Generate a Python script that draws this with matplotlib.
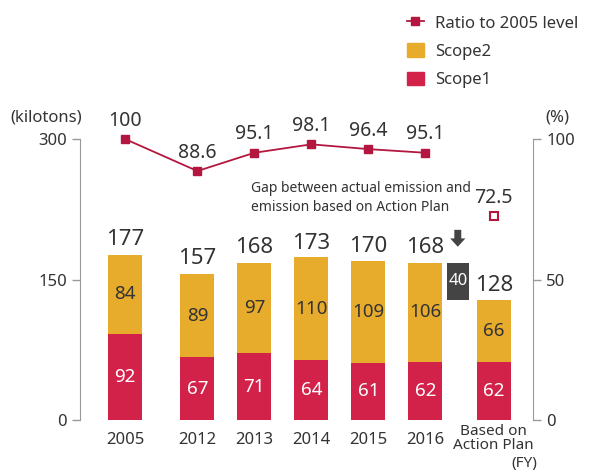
import matplotlib
matplotlib.use("Agg")
import matplotlib.pyplot as plt
from matplotlib.lines import Line2D
from matplotlib.patches import Patch

plt.rcParams['font.family'] = ['Noto Sans', 'DejaVu Sans']

categories = ["2005", "2012", "2013", "2014", "2015", "2016", "Based on\nAction Plan"]
scope1 = [92, 67, 71, 64, 61, 62, 62]
scope2 = [84, 89, 97, 110, 109, 106, 66]
totals = [177, 157, 168, 173, 170, 168, 128]
ratio_labels = ["100", "88.6", "95.1", "98.1", "96.4", "95.1"]
ratio = [100, 88.6, 95.1, 98.1, 96.4, 95.1]
plan_ratio = 72.5
gap = 40

xpos = [0, 1.27, 2.27, 3.27, 4.27, 5.27, 6.47]
gap_x = 5.84

c_s1 = "#D2224A"
c_s2 = "#E8AC2C"
c_line = "#B3173F"
c_txt = "#333333"
c_ax = "#999999"

fig = plt.figure(figsize=(6.04, 4.72), dpi=100)
ax = fig.add_axes([80/604, 1-420/472, (533-80)/604, (420-139)/472])
ax2 = ax.twinx()

w = 0.6
ax.bar(xpos, scope1, width=w, color=c_s1, zorder=2)
ax.bar(xpos, scope2, width=w, bottom=scope1, color=c_s2, zorder=2)
for x, a, b, t in zip(xpos, scope1, scope2, totals):
    ax.text(x, a/2, str(a), ha='center', va='center', color='white', fontsize=13.5)
    ax.text(x, a + b/2, str(b), ha='center', va='center', color=c_txt, fontsize=13.5)
    ax.annotate(str(t), (x, t), xytext=(0, 3), textcoords='offset points',
                ha='center', va='bottom', color=c_txt, fontsize=16)

# gap box
ax.bar([gap_x], [gap], bottom=[totals[-1]], width=0.38, color="#444444", zorder=2)
ax.text(gap_x, totals[-1] + gap/2, str(gap), ha='center', va='center', color='white', fontsize=12)
ax.annotate('', xy=(gap_x, 182), xytext=(gap_x, 206),
            arrowprops=dict(arrowstyle='simple,head_width=1.1,head_length=0.6,tail_width=0.5',
                            color="#444444", lw=0))
ax.text(2.21, 237, "Gap between actual emission and\nemission based on Action Plan",
        ha='left', va='center', color=c_txt, fontsize=10, linespacing=1.3)

ax.set_xlim(-0.79, 7.16)
ax.set_ylim(0, 300)
ax2.set_ylim(0, 100)

ax2.plot(xpos[:6], ratio, color=c_line, marker='s', markersize=6, lw=1.3, zorder=3, clip_on=False)
for x, r, lab in zip(xpos[:6], ratio, ratio_labels):
    ax2.annotate(lab, (x, r), xytext=(0, 6), textcoords='offset points',
                 ha='center', va='bottom', color=c_txt, fontsize=14)
ax2.plot([xpos[6]], [plan_ratio], marker='s', markersize=6, mfc='white', mec=c_line, mew=1.5,
         ls='none', clip_on=False)
ax2.annotate(str(plan_ratio), (xpos[6], plan_ratio), xytext=(0, 6), textcoords='offset points',
             ha='center', va='bottom', color=c_txt, fontsize=14)

for a in (ax, ax2):
    for s in ('top', 'bottom'):
        a.spines[s].set_visible(False)
    a.tick_params(colors=c_ax, labelcolor=c_txt, labelsize=12, length=6, width=1)
ax.spines['left'].set_color(c_ax)
ax.spines['right'].set_visible(False)
ax2.spines['left'].set_visible(False)
ax2.spines['right'].set_color(c_ax)
ax.set_yticks([0, 150, 300])
ax2.set_yticks([0, 50, 100])
ax.set_xticks(xpos)
ax.set_xticklabels(categories[:-1] + [""])
ax.tick_params(axis='x', length=0, pad=9)
ax.annotate(categories[-1], (xpos[-1], 0), xytext=(0, -3), textcoords='offset points',
            ha='center', va='top', color=c_txt, fontsize=11, linespacing=0.85, annotation_clip=False)

fig.text(82/604, 1-117/472, "(kilotons)", ha='right', va='center', color=c_txt, fontsize=12)
fig.text(545/604, 1-117/472, "(%)", ha='left', va='center', color=c_txt, fontsize=12)
fig.text(537/604, 1-463/472, "(FY)", ha='right', va='center', color=c_txt, fontsize=11)

handles = [Line2D([0], [0], color=c_line, marker='s', markersize=6, lw=1.3),
           Patch(color=c_s2), Patch(color=c_s1)]
labels = ["Ratio to 2005 level", "Scope2", "Scope1"]
fig.legend(handles, labels, loc='upper left', bbox_to_anchor=(392/604, 1.0), frameon=False,
           fontsize=12, handlelength=1.0, handleheight=0.9, handletextpad=0.7, labelspacing=0.7,
           labelcolor=c_txt)

fig.savefig("out.png", dpi=100)
